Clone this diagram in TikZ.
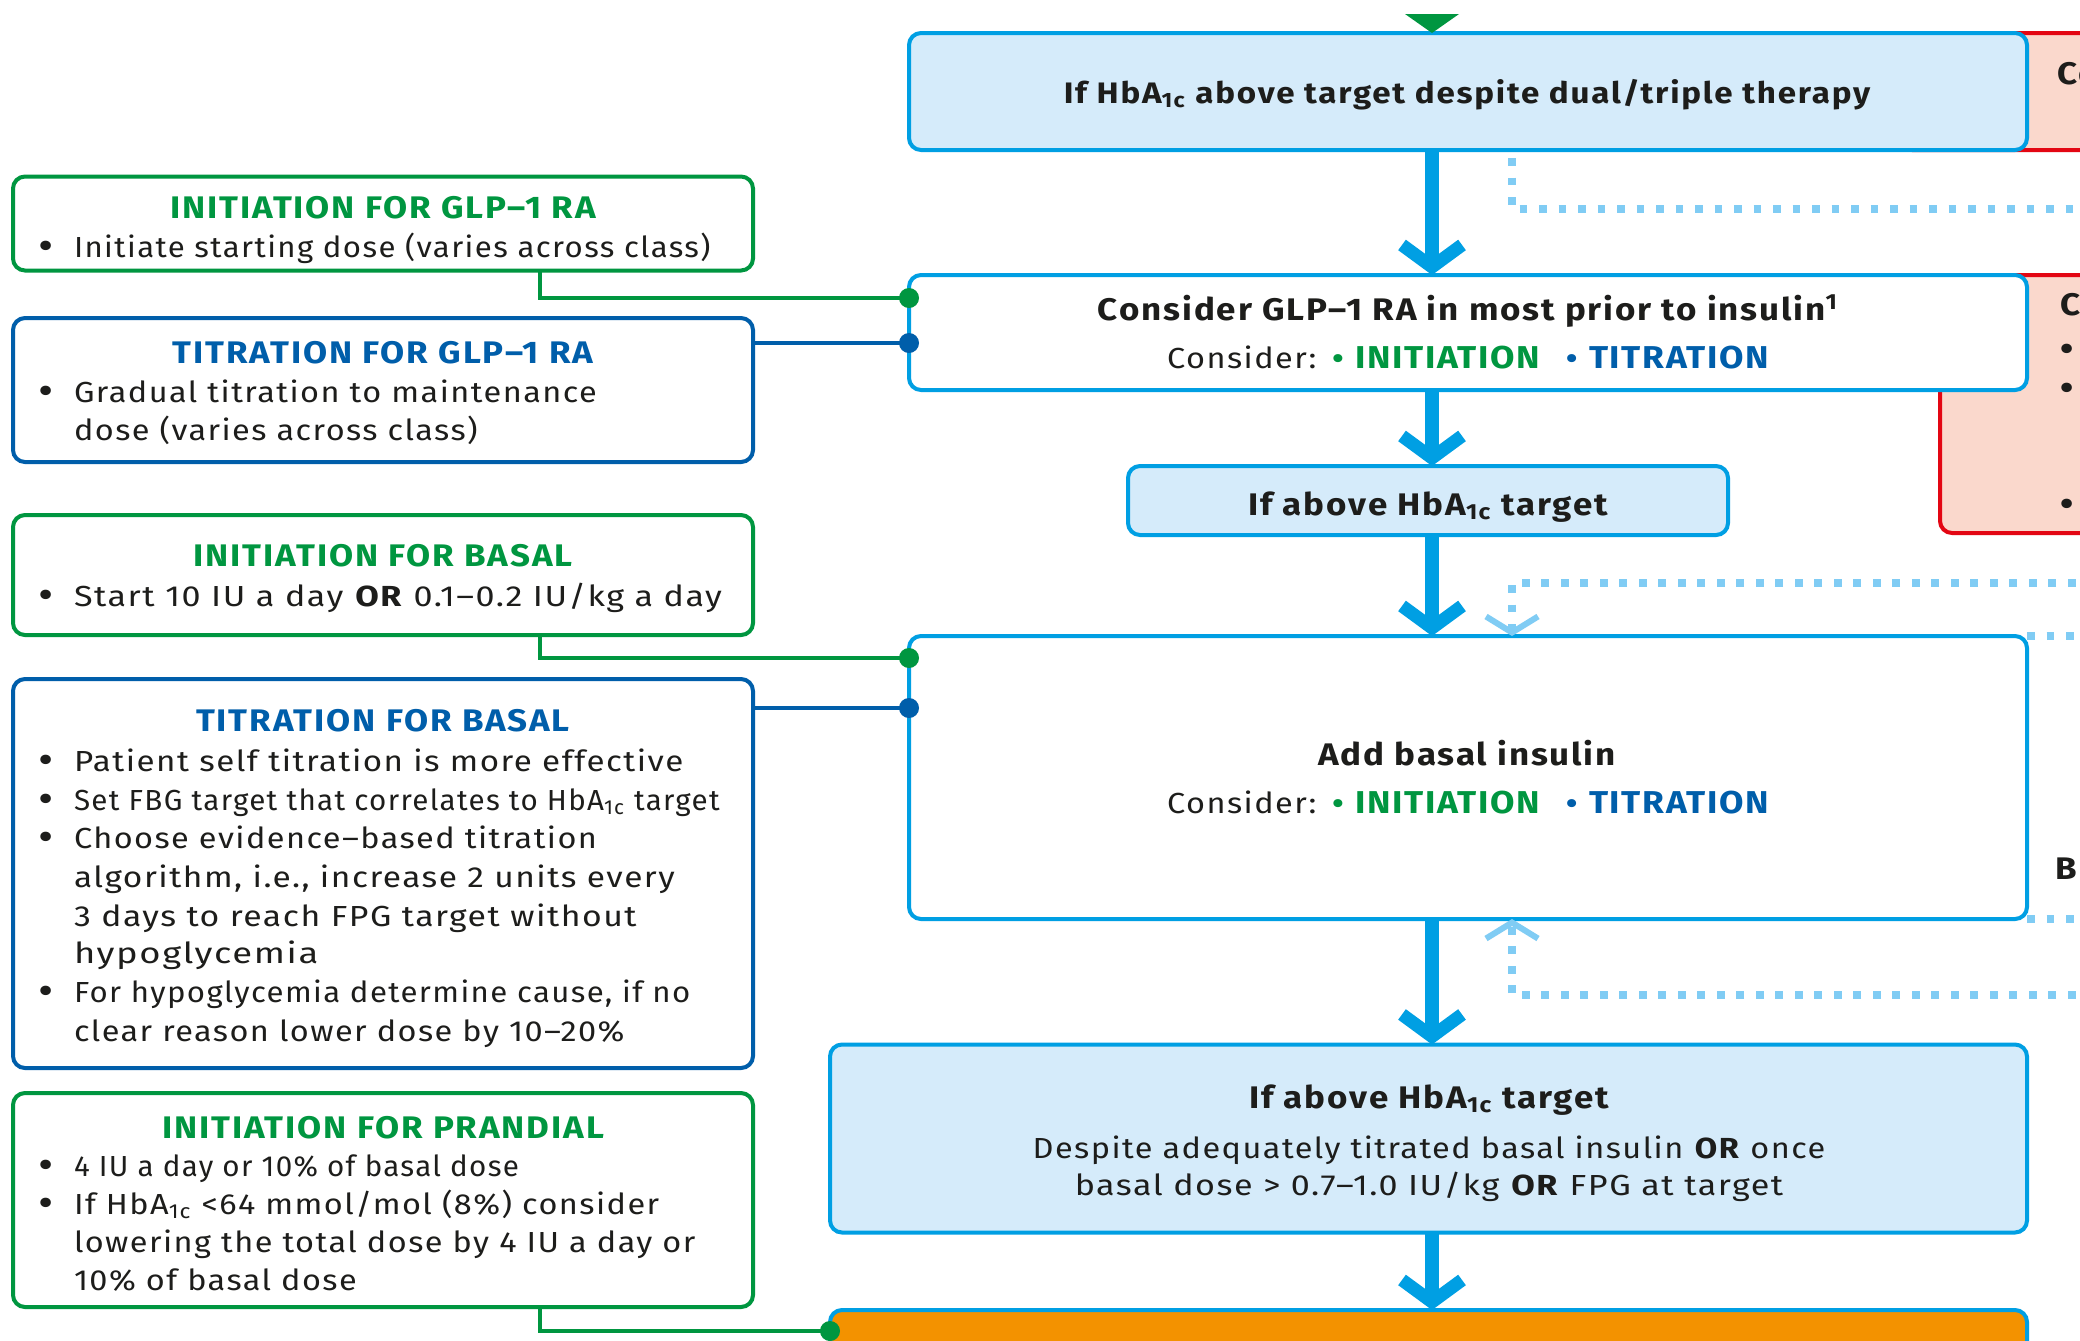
\documentclass[tikz,border=0pt]{standalone}
\usepackage{graphicx}
\usepackage{fontspec}
\setmainfont{Fira Sans}[FakeStretch=1.12, LetterSpace=5]
\newfontfamily\headfam{Fira Sans}[FakeStretch=1.12, LetterSpace=6]
\usetikzlibrary{arrows.meta,calc}

\definecolor{ink}{RGB}{29,29,27}
\definecolor{initgreen}{RGB}{0,150,64}
\definecolor{titblue}{RGB}{0,94,170}
\definecolor{flowblue}{RGB}{0,159,227}
\definecolor{paleblue}{RGB}{213,235,250}
\definecolor{dotblue}{RGB}{128,204,244}
\definecolor{alertred}{RGB}{227,6,19}
\definecolor{alertfill}{RGB}{250,216,204}
\definecolor{insorange}{RGB}{243,146,0}

\newcommand{\hbaic}{HbA\textsubscript{1c}}
\newcommand{\bodyfont}{\fontsize{14.5}{17}\selectfont}
\newcommand{\headfont}{\headfam\fontsize{15.6}{18}\selectfont\bfseries}
\newcommand{\leadfont}{\headfam\fontsize{14.8}{18}\selectfont\bfseries}
\newcommand{\bigdot}{{\fontsize{17}{17}\selectfont\bfseries •}}
\newcommand{\squeeze}[2]{\scalebox{#1}[1]{#2}}
\newcommand{\optword}[2]{{\bfseries\textcolor{#1}{•}}\hspace{6pt}\textcolor{#1}{\fontsize{15.8}{18}\selectfont\bfseries #2}}
\newcommand{\considerline}{Consider:\hspace{8pt}\optword{initgreen}{INITIATION}\hspace{13pt}\optword{titblue}{TITRATION}}
% one bulleted line / continuation line inside a side panel
\newcommand{\sideitem}[3]{\node[bul] (#1b) at (46,#2) {\bigdot}; \node[sline] (#1) at (74,#2) {#3};}
\newcommand{\sidecont}[3]{\node[sline] (#1) at (74,#2) {#3};}

\begin{document}
\begin{tikzpicture}[x=0.5pt,y=-0.5pt,
  every node/.style={text=ink, inner sep=0pt, outer sep=0pt},
  flowbox/.style={draw=flowblue, line width=2pt, rounded corners=6pt},
  sidebox/.style={fill=white, line width=2pt, rounded corners=6pt, minimum width=370pt},
  initbox/.style={sidebox, draw=initgreen},
  titrbox/.style={sidebox, draw=titblue},
  alertbox/.style={draw=alertred, fill=alertfill, line width=2pt, rounded corners=6pt},
  head/.style={font=\headfont, anchor=base},
  sline/.style={font=\bodyfont, anchor=base west},
  bul/.style={font=\bodyfont, anchor=base},
  flowtext/.style={font=\headfont, anchor=base},
  plaintext/.style={font=\bodyfont, anchor=base},
  mainflow/.style={draw=flowblue, line width=7pt, -{Straight Barb[length=11pt,width=30pt,line width=6.5pt]}},
  loopline/.style={draw=dotblue, line width=3.6pt, dash pattern=on 3.8pt off 5.95pt},
  looparrow/.style={loopline, -{Straight Barb[length=8pt,width=26pt,line width=3pt]}},
  gwire/.style={draw=initgreen, line width=2pt},
  bwire/.style={draw=titblue, line width=2pt},
]
\useasboundingbox (0,0) rectangle (2080,1340);
\clip (0,0) rectangle (2080,1340);
\fill[white] (0,0) rectangle (2080,1340);

% helper positions
\coordinate (ax) at (1432,0);
\coordinate (lx) at (1512,0);
\coordinate (jx) at (540,0);
\coordinate (rimX) at (2095,0);
\coordinate (rimA) at (2095,209);
\coordinate (rimB) at (2095,583);
\coordinate (rimC) at (2095,995);
\coordinate (w1) at (0,298);
\coordinate (w2) at (0,343);
\coordinate (w3) at (0,658);
\coordinate (w4) at (0,708);
\coordinate (w5) at (0,1331);

% red panels on the right edge
\node[alertbox, anchor=north west, minimum width=150pt, minimum height=58.5pt] (r1) at (1900,33) {};
\node[alertbox, anchor=north west, minimum width=130pt, minimum height=129pt] (r2) at (1940,275) {};
\node[font=\headfont, anchor=base west] (r1t) at (2057,84) {Co};
\node[font=\headfont, anchor=base west] (r2t) at (2060,315) {C};
\node[bul] (r2a) at (2067,360) {\bigdot};
\node[bul] (r2b) at (2067,399) {\bigdot};
\node[bul] (r2c) at (2067,515) {\bigdot};
\node[font=\headfont, anchor=base west] (r3t) at (2055,879) {Br};

% flow boxes
\node[flowbox, fill=paleblue, minimum width=559pt, minimum height=58.5pt] (b1) at (1468,91.5) {};
\node[flowbox, fill=white, minimum width=559pt, minimum height=57.5pt] (b2) at (1468,332.5) {};
\node[flowbox, fill=paleblue, minimum width=300pt, minimum height=34.5pt] (b3) at (1428,500.5) {};
\node[flowbox, fill=white, minimum width=559pt, minimum height=141.5pt] (b4) at (1468,777.5) {};
\node[flowbox, fill=paleblue, minimum width=598.5pt, minimum height=94pt] (b5) at (1428.5,1138.5) {};
\node[flowbox, fill=insorange, minimum width=598.5pt, minimum height=60pt] (b6) at (1428.5,1370) {};

% flow texts
\node[font=\leadfont, anchor=base] (b1t) at (1467,103) {If \hbaic{} above target despite dual/triple therapy};
\node[flowtext] (b2t) at (1468,320) {Consider GLP–1 RA in most prior to insulin\textsuperscript{1}};
\node[plaintext] (b2c) at (1468,368) {\considerline};
\node[flowtext] (b3t) at (1428,515) {If above \hbaic{} target};
\node[flowtext] (b4t) at (1467,765) {Add basal insulin};
\node[plaintext] (b4c) at (1468,813) {\considerline};
\node[flowtext] (b5t) at (1429,1108) {If above \hbaic{} target};
\node[plaintext] (b5a) at (1429,1158) {Despite adequately titrated basal insulin \textbf{OR} once};
\node[plaintext] (b5b) at (1429,1195) {\squeeze{1.05}{basal dose > 0.7–1.0 IU/kg \textbf{OR} FPG at target}};

% entry marker above the first box
\fill[initgreen] ($(b1.north -| ax)+(-27,-19)$) -- ($(b1.north -| ax)+(27,-19)$) -- (b1.north -| ax) -- cycle;

% main flow arrows
\draw[mainflow] (b1.south -| ax) -- (b2.north -| ax);
\draw[mainflow] (b2.south -| ax) -- (b3.north -| ax);
\draw[mainflow] (b3.south -| ax) -- (b4.north -| ax);
\draw[mainflow] (b4.south -| ax) -- (b5.north -| ax);
\draw[mainflow] (b5.south -| ax) -- (b6.north -| ax);

% dotted loops towards the right-hand column
\draw[loopline] ($(b1.south -| lx)+(0,8)$) |- (rimA);
\draw[looparrow] (rimB) -| (b4.north -| lx);
\draw[looparrow] (rimC) -| (b4.south -| lx);
\draw[loopline] (b4.north east) -- (b4.north east -| rimX);
\draw[loopline] (b4.south east) -- (b4.south east -| rimX);

% side panels
\node[initbox, minimum height=47pt] (L1) at (383,223.5) {};
\node[titrbox, minimum height=72pt] (L2) at (383,390) {};
\node[initbox, minimum height=60pt] (L3) at (383,575) {};
\node[titrbox, minimum height=194.5pt] (L4) at (383,873.5) {};
\node[initbox, minimum height=107pt] (L5) at (383,1200) {};

\node[head, text=initgreen] (L1h) at (383,218) {INITIATION FOR GLP–1 RA};
\sideitem{L1a}{257}{\squeeze{0.96}{Initiate starting dose (varies across class)}}

\node[head, text=titblue] (L2h) at (383,363) {TITRATION FOR GLP–1 RA};
\sideitem{L2a}{402}{Gradual titration to maintenance}
\sidecont{L2b}{440}{dose (varies across class)}

\node[head, text=initgreen] (L3h) at (383,566) {INITIATION FOR BASAL};
\sideitem{L3a}{606}{\squeeze{1.05}{Start 10 IU a day \textbf{OR} 0.1–0.2 IU/kg a day}}

\node[head, text=titblue] (L4h) at (383,731) {TITRATION FOR BASAL};
\sideitem{L4a}{771}{\squeeze{1.02}{Patient self titration is more effective}}
\sideitem{L4b}{810}{\squeeze{0.91}{Set FBG target that correlates to \hbaic{} target}}
\sideitem{L4c}{848}{Choose evidence–based titration}
\sidecont{L4d}{887}{\squeeze{1.03}{algorithm, i.e., increase 2 units every}}
\sidecont{L4e}{926}{\squeeze{1.04}{3 days to reach FPG target without}}
\sidecont{L4f}{963}{\squeeze{1.12}{hypoglycemia}}
\sideitem{L4g}{1002}{\squeeze{0.96}{For hypoglycemia determine cause, if no}}
\sidecont{L4h}{1041}{clear reason lower dose by 10–20\%}

\node[head, text=initgreen] (L5h) at (383,1138) {INITIATION FOR PRANDIAL};
\sideitem{L5a}{1176}{\squeeze{0.91}{4 IU a day or 10\% of basal dose}}
\sideitem{L5b}{1214}{If \hbaic{} <64 mmol/mol (8\%) consider}
\sidecont{L5c}{1252}{lowering the total dose by 4 IU a day or}
\sidecont{L5d}{1290}{10\% of basal dose}

% wires from the side panels to the flow boxes
\draw[gwire] (L1.south -| jx) |- (b2.west |- w1);
\fill[initgreen] (b2.west |- w1) circle (5pt);
\draw[bwire] (L2.east |- w2) -- (b2.west |- w2);
\fill[titblue] (b2.west |- w2) circle (5pt);
\draw[gwire] (L3.south -| jx) |- (b4.west |- w3);
\fill[initgreen] (b4.west |- w3) circle (5pt);
\draw[bwire] (L4.east |- w4) -- (b4.west |- w4);
\fill[titblue] (b4.west |- w4) circle (5pt);
\draw[gwire] (L5.south -| jx) |- (b6.west |- w5);
\fill[initgreen] (b6.west |- w5) circle (5pt);
\end{tikzpicture}
\end{document}
